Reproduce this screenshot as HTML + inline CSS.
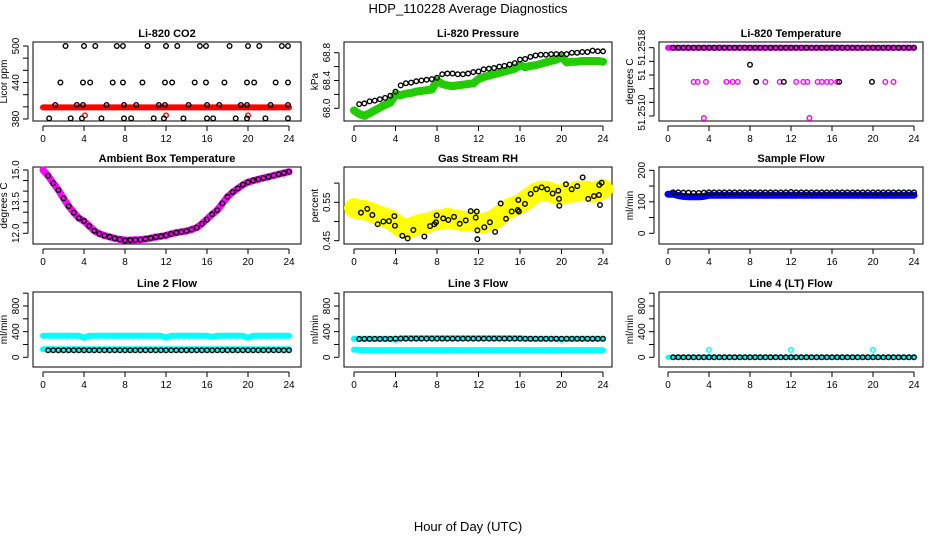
<!DOCTYPE html>
<html><head><meta charset="utf-8">
<style>
html,body{margin:0;padding:0;background:#fff;}
svg{display:block;font-family:"Liberation Sans",Arial,sans-serif;}
.pt{font-weight:bold;font-size:11px;}
.tk{font-size:10px;}
</style></head>
<body>
<svg id="chart" width="936" height="540" viewBox="0 0 936 540">
<text x="468" y="13" text-anchor="middle" font-size="13">HDP_110228  Average Diagnostics</text>
<text x="468" y="531" text-anchor="middle" font-size="13">Hour of Day (UTC)</text>
</svg>
<script>
// ---------- data ----------
const H49 = [0,0.5,1,1.5,2,2.5,3,3.5,4,4.5,5,5.5,6,6.5,7,7.5,8,8.5,9,9.5,10,10.5,11,11.5,12,12.5,13,13.5,14,14.5,15,15.5,16,16.5,17,17.5,18,18.5,19,19.5,20,20.5,21,21.5,22,22.5,23,23.5,24];
const H48 = [0.5,1,1.5,2,2.5,3,3.5,4,4.5,5,5.5,6,6.5,7,7.5,8,8.5,9,9.5,10,10.5,11,11.5,12,12.5,13,13.5,14,14.5,15,15.5,16,16.5,17,17.5,18,18.5,19,19.5,20,20.5,21,21.5,22,22.5,23,23.5,24];
const xTicks = [0,4,8,12,16,20,24];

// CO2
const co2Red = [399,399,399,399,399,399,399,399,399,399,399,399,399,399,399,399,399,399,399,399,399,399,399,399,399,399,399,399,399,399,399,399,399,399,399,399,399,399,399,399,399,399,399,399,399,399,399,399,399];
const co2BlackHours = [2.2,4.0,5.1,7.2,7.8,10.2,12.0,13.1,15.3,15.9,18.2,20.0,21.1,23.3,23.9,
 1.7,3.9,4.6,6.8,7.8,9.7,11.9,12.6,14.8,15.9,17.7,19.9,20.6,22.7,23.9,
 1.2,3.3,3.9,6.2,7.9,9.1,11.3,11.9,14.2,16.0,17.2,19.3,19.9,22.2,23.9,
 0.6,2.7,3.8,5.7,7.9,8.6,10.8,11.8,13.7,16.0,16.6,18.8,19.9,21.7,23.9];
const co2BlackValues = [500,500,500,500,500,500,500,500,500,500,500,500,500,500,500,
 440,440,440,440,440,440,440,440,440,440,440,440,440,440,440,
 403,403,403,403,403,403,403,403,403,403,403,403,403,403,403,
 381,381,381,381,381,381,381,381,381,381,381,381,381,381,381];
const co2RedHours = [4.1,12.0,20.0];
const co2RedValues = [386,386,386];
const co2Ticks = [380,400,420,440,460,480,500];
const co2Labels = ['380','','','440','','','500'];

// Pressure
const presGreen = [67.97,67.92,67.89,67.93,67.97,68.01,68.05,68.08,68.20,68.19,68.21,68.22,68.24,68.25,68.26,68.27,68.40,68.35,68.33,68.32,68.33,68.34,68.35,68.36,68.42,68.45,68.47,68.49,68.51,68.53,68.55,68.57,68.62,68.59,68.61,68.62,68.64,68.66,68.68,68.70,68.74,68.66,68.67,68.67,68.68,68.68,68.68,68.68,68.67];
const presBlack = [68.06,68.07,68.10,68.11,68.13,68.15,68.18,68.24,68.33,68.36,68.37,68.39,68.40,68.41,68.42,68.44,68.49,68.50,68.50,68.49,68.49,68.50,68.52,68.53,68.56,68.57,68.58,68.60,68.61,68.63,68.65,68.70,68.71,68.74,68.76,68.77,68.77,68.78,68.78,68.78,68.78,68.80,68.80,68.81,68.81,68.83,68.82,68.82];
const presTicks = [68.0,68.2,68.4,68.6,68.8];
const presLabels = ['68.0','','68.4','','68.8'];

// Li-820 temperature
const tempMagentaTop = [51.2518,51.2518,51.2518,51.2518,51.2518,51.2518,51.2518,51.2518,51.2518,51.2518,51.2518,51.2518,51.2518,51.2518,51.2518,51.2518,51.2518,51.2518,51.2518,51.2518,51.2518,51.2518,51.2518,51.2518,51.2518,51.2518,51.2518,51.2518,51.2518,51.2518,51.2518,51.2518,51.2518,51.2518,51.2518,51.2518,51.2518,51.2518,51.2518,51.2518,51.2518,51.2518,51.2518,51.2518,51.2518,51.2518,51.2518,51.2518,51.2518];
const tempBlackTop = [51.2518,51.2518,51.2518,51.2518,51.2518,51.2518,51.2518,51.2518,51.2518,51.2518,51.2518,51.2518,51.2518,51.2518,51.2518,51.2518,51.2518,51.2518,51.2518,51.2518,51.2518,51.2518,51.2518,51.2518,51.2518,51.2518,51.2518,51.2518,51.2518,51.2518,51.2518,51.2518,51.2518,51.2518,51.2518,51.2518,51.2518,51.2518,51.2518,51.2518,51.2518,51.2518,51.2518,51.2518,51.2518,51.2518,51.2518,51.2518];
const tempMagHours = [2.5,2.9,3.7,5.7,6.3,6.8,8.6,9.5,10.9,12.5,13.2,13.6,14.6,15.0,15.5,15.9,16.5,21.2,22.0,3.5,13.8];
const tempMagValues = [51.2513,51.2513,51.2513,51.2513,51.2513,51.2513,51.2513,51.2513,51.2513,51.2513,51.2513,51.2513,51.2513,51.2513,51.2513,51.2513,51.2513,51.2513,51.2513,51.25077,51.25077];
const tempBlackHours = [8.6,11.3,16.7,19.9,8.0];
const tempBlackValues = [51.2513,51.2513,51.2513,51.2513,51.25155];
const tempTicks = [51.2508,51.2510,51.2512,51.2514,51.2516,51.2518];
const tempLabelValues = [51.2518,51.2514,51.25085];
const tempLabels = ['51.2518','51','51.2510'];

// Ambient box temperature
const ambMagenta = [15.0,14.73,14.37,14.05,13.66,13.29,12.98,12.72,12.58,12.35,12.12,11.98,11.89,11.83,11.76,11.71,11.68,11.68,11.69,11.70,11.73,11.77,11.82,11.86,11.9,11.97,12.03,12.07,12.11,12.18,12.27,12.45,12.68,12.9,13.1,13.42,13.73,13.95,14.13,14.3,14.42,14.5,14.56,14.62,14.68,14.74,14.80,14.86,14.92];
const ambBlack = [14.73,14.37,14.05,13.66,13.29,12.98,12.72,12.58,12.35,12.12,11.98,11.89,11.83,11.76,11.71,11.66,11.68,11.69,11.70,11.73,11.77,11.82,11.86,11.9,11.97,12.03,12.07,12.11,12.18,12.27,12.45,12.65,12.9,13.1,13.42,13.73,13.95,14.13,14.3,14.42,14.5,14.56,14.62,14.68,14.74,14.80,14.86,14.92];
const ambTicks = [12.0,12.5,13.0,13.5,14.0,14.5,15.0];
const ambLabels = ['12.0','','','13.5','','','15.0'];

// Gas stream RH
const rhYellow = [0.535,0.53,0.53,0.525,0.52,0.515,0.51,0.505,0.495,0.485,0.48,0.485,0.49,0.495,0.495,0.5,0.505,0.505,0.51,0.505,0.505,0.5,0.5,0.505,0.495,0.495,0.5,0.505,0.515,0.525,0.535,0.54,0.545,0.555,0.565,0.575,0.58,0.58,0.575,0.57,0.57,0.575,0.575,0.58,0.58,0.58,0.575,0.58,0.585];
const rhBlackHours = [0.67,1.28,1.77,2.28,2.83,3.37,3.89,3.95,4.66,5.17,5.72,6.78,7.33,7.74,7.9,7.97,8.6,9.09,9.64,10.19,10.77,11.25,11.73,11.83,11.89,11.89,12.56,13.1,13.6,14.14,14.65,15.2,15.78,15.84,15.9,16.48,17.03,17.54,18.09,18.63,19.15,19.69,19.76,19.79,20.43,20.98,21.52,22.04,22.58,23.13,23.61,23.71,23.64,23.87];
const rhBlackValues = [0.523,0.533,0.517,0.493,0.500,0.501,0.514,0.489,0.463,0.456,0.478,0.461,0.488,0.493,0.498,0.516,0.508,0.504,0.512,0.494,0.503,0.527,0.510,0.526,0.477,0.454,0.485,0.498,0.473,0.547,0.507,0.526,0.530,0.556,0.526,0.546,0.572,0.584,0.589,0.584,0.573,0.580,0.559,0.541,0.597,0.584,0.592,0.615,0.559,0.566,0.569,0.543,0.595,0.601];
const rhTicks = [0.45,0.50,0.55,0.60];
const rhLabels = ['0.45','','0.55',''];

// Sample flow
const sampleBlue = [124,124,120,117,116,116,116,117,121,121,121,121,121,121,121,121,121,121,121,121,121,121,121,121,121,121,121,121,121,121,121,121,121,121,121,121,121,121,121,121,121,121,121,121,121,121,121,121,121];
const sampleBlack = [130,130,129,129,128,128,129,130,130,130,130,130,130,130,130,130,130,130,130,130,130,130,130,131,130,130,130,130,130,130,130,130,130,130,130,130,130,130,130,130,130,130,130,130,130,130,130,130];
const sampleTicks = [0,50,100,150,200];
const sampleLabels = ['0','','100','','200'];

// Line flows
const flowTicks = [0,200,400,600,800,1000];
const flowLabels = ['0','','400','','800',''];
const l2CyanUpper = [335,335,335,335,335,335,335,335,305,335,335,335,335,335,335,335,335,335,335,335,335,335,335,335,305,335,335,335,335,335,335,335,335,320,335,335,335,335,335,335,305,335,335,335,335,335,335,335,335];
const l2CyanLower = [125,125,125,125,125,125,125,125,125,125,125,125,125,125,125,125,125,125,125,125,125,125,125,125,125,125,125,125,125,125,125,125,125,125,125,125,125,125,125,125,125,125,125,125,125,125,125,125,125];
const l2Black = [110,110,110,110,110,110,110,110,110,110,110,110,110,110,110,110,110,110,110,110,110,110,110,110,110,110,110,110,110,110,110,110,110,110,110,110,110,110,110,110,110,110,110,110,110,110,110,110];
const l3CyanUpper = [290,290,290,290,290,290,290,290,275,300,300,300,300,300,300,300,300,300,300,300,300,300,300,300,300,300,300,300,300,300,300,300,300,290,290,290,290,290,290,290,275,290,290,290,290,290,290,290,290];
const l3CyanLower = [120,115,112,112,112,112,112,112,112,112,112,112,112,112,112,112,112,112,112,112,112,112,112,112,112,112,112,112,112,112,112,112,112,112,112,112,112,112,112,112,112,112,112,112,112,112,112,112,112];
const l3Black = [285,288,288,288,288,288,288,292,292,292,292,292,292,292,292,292,292,292,292,292,292,292,292,292,292,292,292,292,292,292,292,292,290,290,290,290,290,290,290,290,290,290,290,290,290,290,290,290];
const l4Cyan = [0,0,0,0,0,0,0,0,0,0,0,0,0,0,0,0,0,0,0,0,0,0,0,0,0,0,0,0,0,0,0,0,0,0,0,0,0,0,0,0,0,0,0,0,0,0,0,0,0];
const l4Black = [0,0,0,0,0,0,0,0,0,0,0,0,0,0,0,0,0,0,0,0,0,0,0,0,0,0,0,0,0,0,0,0,0,0,0,0,0,0,0,0,0,0,0,0,0,0,0,0];
const l4SpikeHours = [4,12,20];
const l4SpikeValues = [115,115,115];

// ---------- drawing ----------
const svg = document.getElementById('chart');
const NS = 'http://www.w3.org/2000/svg';
function mk(tag, attrs){ const e=document.createElementNS(NS,tag); for(const k in attrs) e.setAttribute(k,attrs[k]); svg.appendChild(e); return e; }

function panel(cfg){
  cfg.x = h => cfg.h0 + (h/24)*(cfg.h24-cfg.h0);
  cfg.y = v => cfg.y0 + (v-cfg.v0)/(cfg.v1-cfg.v0)*(cfg.y1-cfg.y0);
  const box = mk('rect',{x:cfg.bx0,y:cfg.by0,width:cfg.bx1-cfg.bx0,height:cfg.by1-cfg.by0,fill:'none',stroke:'#000','stroke-width':1});
  
  
  const t = mk('text',{x:(cfg.bx0+cfg.bx1)/2,y:cfg.by0-5,'text-anchor':'middle',class:'pt'});
  t.textContent = cfg.title;
  
  
  // x axis
  const ay = cfg.by1+5;
  const xl = mk('line',{x1:cfg.x(0),x2:cfg.x(24),y1:ay,y2:ay,stroke:'#000'});
  
  
  xTicks.forEach(h=>{
    const tk = mk('line',{x1:cfg.x(h),x2:cfg.x(h),y1:ay,y2:ay+5,stroke:'#000'});
    
    
    const lb = mk('text',{x:cfg.x(h),y:ay+16,'text-anchor':'middle',class:'tk'});
    lb.textContent = h;
    
    
  });
  // y axis
  const ax = cfg.bx0-5;
  const yl = mk('line',{x1:ax,x2:ax,y1:cfg.y(cfg.ticks[0]),y2:cfg.y(cfg.ticks[cfg.ticks.length-1]),stroke:'#000'});
  
  
  cfg.ticks.forEach((v,i)=>{
    const tk = mk('line',{x1:ax-5,x2:ax,y1:cfg.y(v),y2:cfg.y(v),stroke:'#000'});
    
    
  });
  const lv = cfg.labelValues || cfg.ticks;
  lv.forEach((v,i)=>{
    if(!cfg.labels[i]) return;
    const yy = cfg.y(v), xx = ax-9;
    const lb = mk('text',{x:xx,y:yy,'text-anchor':'middle',class:'tk',transform:'rotate(-90 '+xx+' '+yy+')'});
    lb.textContent = cfg.labels[i];
    
    
  });
  const ty = (cfg.by0+cfg.by1)/2, tx = ax-21;
  const yt = mk('text',{x:tx,y:ty,'text-anchor':'middle',class:'tk',transform:'rotate(-90 '+tx+' '+ty+')'});
  yt.textContent = cfg.ylab;
  
  
  return cfg;
}
function band(p, hours, vals, color, w, name){
  const pts = hours.map((h,i)=>p.x(h).toFixed(1)+','+p.y(vals[i]).toFixed(1)).join(' ');
  const pl = mk('polyline',{points:pts,fill:'none',stroke:color,'stroke-width':w,'stroke-linejoin':'round','stroke-linecap':'round'});
  
  
}
function dots(p, hours, vals, color, name, r){
  hours.forEach((h,i)=>{
    const c = mk('circle',{cx:p.x(h),cy:p.y(vals[i]),r:r||2.3,fill:'none',stroke:color,'stroke-width':1.4});
    
    
  });
}

const pCO2 = panel({id:'co2',title:'Li-820 CO2',ylab:'Licor ppm',bx0:33,bx1:301,by0:42,by1:121,h0:43,h24:289,v0:380,y0:119,v1:500,y1:46,ticks:co2Ticks,labels:co2Labels});
band(pCO2,H49,co2Red,'#ff0000',6,'co2-red-series');
dots(pCO2,co2RedHours,co2RedValues,'#ff0000','co2-red-point');
dots(pCO2,co2BlackHours,co2BlackValues,'#000','co2-black-point');

const pP = panel({id:'pressure',title:'Li-820 Pressure',ylab:'kPa',bx0:344,bx1:612,by0:42,by1:121,h0:354,h24:603,v0:68.0,y0:108.3,v1:68.8,y1:52.7,ticks:presTicks,labels:presLabels});
band(pP,H49,presGreen,'#22cc00',8,'pressure-green-series');
dots(pP,H48,presBlack,'#000','pressure-black-point');

const pT = panel({id:'temperature',title:'Li-820 Temperature',ylab:'degrees C',bx0:659,bx1:923,by0:42,by1:121,h0:668,h24:914,v0:51.2508,y0:116,v1:51.2518,y1:47.7,ticks:tempTicks,labels:tempLabels,labelValues:tempLabelValues});
band(pT,H49,tempMagentaTop,'#ff00ff',6,'temperature-magenta-series');
dots(pT,H48,tempBlackTop,'#000','temperature-black-point');
dots(pT,tempMagHours,tempMagValues,'#ff00ff','temperature-magenta-point');
dots(pT,tempBlackHours,tempBlackValues,'#000','temperature-black-point');

const pA = panel({id:'ambient',title:'Ambient Box Temperature',ylab:'degrees C',bx0:33,bx1:301,by0:167,by1:244,h0:43,h24:289,v0:12.0,y0:233.3,v1:15.0,y1:170,ticks:ambTicks,labels:ambLabels});
band(pA,H49,ambMagenta,'#ff00ff',7,'ambient-magenta-series');
dots(pA,H48,ambBlack,'#000','ambient-black-point');

const pR = panel({id:'rh',title:'Gas Stream RH',ylab:'percent',bx0:344,bx1:612,by0:167,by1:244,h0:354,h24:603,v0:0.45,y0:240.7,v1:0.55,y1:202.3,ticks:rhTicks,labels:rhLabels});
band(pR,H49,rhYellow,'#ffff00',20,'rh-yellow-series');
dots(pR,rhBlackHours,rhBlackValues,'#000','rh-black-point');

const pS = panel({id:'sample',title:'Sample Flow',ylab:'ml/min',bx0:659,bx1:923,by0:167,by1:244,h0:668,h24:914,v0:0,y0:233.3,v1:200,y1:170.3,ticks:sampleTicks,labels:sampleLabels});
band(pS,H49,sampleBlue,'#0000ff',7,'sample-blue-series');
dots(pS,H48,sampleBlack,'#000','sample-black-point');

const p2 = panel({id:'line2',title:'Line 2 Flow',ylab:'ml/min',bx0:33,bx1:301,by0:292,by1:367,h0:43,h24:289,v0:0,y0:357.3,v1:800,y1:306,ticks:flowTicks,labels:flowLabels});
band(p2,H49,l2CyanUpper,'#00ffff',6,'line2-cyan-upper-series');
band(p2,H49,l2CyanLower,'#00ffff',6,'line2-cyan-lower-series');
dots(p2,H48,l2Black,'#000','line2-black-point');

const p3 = panel({id:'line3',title:'Line 3 Flow',ylab:'ml/min',bx0:344,bx1:612,by0:292,by1:367,h0:354,h24:603,v0:0,y0:357.3,v1:800,y1:306,ticks:flowTicks,labels:flowLabels});
band(p3,H49,l3CyanUpper,'#00ffff',6,'line3-cyan-upper-series');
band(p3,H49,l3CyanLower,'#00ffff',6,'line3-cyan-lower-series');
dots(p3,H48,l3Black,'#000','line3-black-point');

const p4 = panel({id:'line4',title:'Line 4 (LT) Flow',ylab:'ml/min',bx0:659,bx1:923,by0:292,by1:367,h0:668,h24:914,v0:0,y0:357.3,v1:800,y1:306,ticks:flowTicks,labels:flowLabels});
band(p4,H49,l4Cyan,'#00ffff',5,'line4-cyan-series');
dots(p4,H48,l4Black,'#000','line4-black-point');
dots(p4,l4SpikeHours,l4SpikeValues,'#00ffff','line4-cyan-spike');
</script>
</body></html>
